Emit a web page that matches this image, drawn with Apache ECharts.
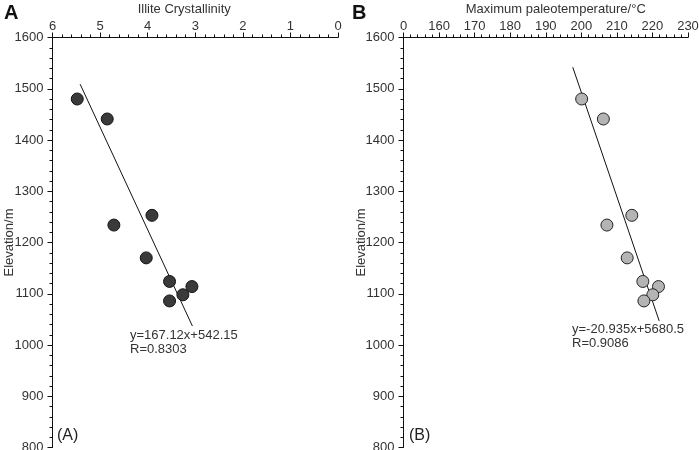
<!DOCTYPE html>
<html lang="en">
<head>
    <meta charset="UTF-8">
    <title>Illite crystallinity / paleotemperature vs elevation</title>
    <script type="text/javascript" src="https://cdn.jsdelivr.net/npm/echarts@6/dist/echarts.min.js"></script>
</head>
<body style="margin:0">
    <div id="container" style="width:699px;height:450px"></div>
    <script>
        // elevation of the samples (m), shared by both panels
        var elevation = [1480, 1441, 1234, 1253, 1170, 1124, 1114, 1098, 1086];
        // panel A: illite crystallinity
        var illite = [5.48, 4.85, 4.71, 3.91, 4.03, 3.54, 3.07, 3.26, 3.54];
        // panel B: maximum paleotemperature (°C)
        var paleoTemp = [200.1, 206.2, 207.2, 214.2, 212.9, 217.3, 221.7, 220.1, 217.6];

        // fitted lines as drawn: [x, elevation] end points
        var fitA = [[5.42, 1509], [3.06, 1037]];
        var fitB = [[197.6, 1542], [221.9, 1047]];

        var fitTextA = ['y=167.12x+542.15', 'R=0.8303'];
        var fitTextB = ['y=-20.935x+5680.5', 'R=0.9086'];

        var font = 'Liberation Sans, Arial, sans-serif';

        function pairs(xs, ys) {
            var out = [];
            for (var i = 0; i < xs.length; i++) out.push([xs[i], ys[i]]);
            return out;
        }

        var axisLineStyle = { show: true, onZero: false, lineStyle: { color: '#111', width: 1 } };
        var labelStyle = { color: '#333', fontSize: 13, fontFamily: font };
        var majorTick = { show: true, inside: false, length: 5, lineStyle: { color: '#111' } };
        var minorTick = { show: true, splitNumber: 5, length: 3, lineStyle: { color: '#111' } };

        function yAxis(gridIndex, gap) {
            return {
                type: 'value',
                gridIndex: gridIndex,
                min: 800,
                max: 1600,
                interval: 100,
                name: 'Elevation/m',
                nameLocation: 'middle',
                nameGap: gap,
                nameMoveOverlap: false,
                nameTextStyle: { color: '#333', fontSize: 13, fontFamily: font },
                axisLine: axisLineStyle,
                axisTick: majorTick,
                minorTick: minorTick,
                axisLabel: Object.assign({ margin: 9, formatter: function (v) { return String(v); } }, labelStyle),
                splitLine: { show: false }
            };
        }

        var chart = echarts.init(document.getElementById('container'));
        var option = {
            animation: false,
            grid: [
                { left: 52.5, right: 361, top: 37.5, bottom: 2.5, outerBoundsMode: 'none', containLabel: false },
                { left: 403.5, right: 11, top: 37.5, bottom: 2.5, outerBoundsMode: 'none', containLabel: false }
            ],
            xAxis: [
                {
                    type: 'value',
                    gridIndex: 0,
                    position: 'top',
                    inverse: true,
                    min: 0,
                    max: 6,
                    interval: 1,
                    name: 'Illite Crystallinity',
                    nameLocation: 'middle',
                    nameGap: 22,
                    nameMoveOverlap: false,
                    nameTextStyle: { color: '#333', fontSize: 13, fontFamily: font, padding: [0, 22, 0, 0] },
                    axisLine: axisLineStyle,
                    axisTick: majorTick,
                    minorTick: minorTick,
                    axisLabel: Object.assign({ margin: 5 }, labelStyle),
                    splitLine: { show: false }
                },
                {
                    type: 'value',
                    gridIndex: 1,
                    position: 'top',
                    min: 150,
                    max: 230,
                    interval: 10,
                    name: 'Maximum paleotemperature/°C',
                    nameLocation: 'middle',
                    nameGap: 22,
                    nameMoveOverlap: false,
                    nameTextStyle: { color: '#333', fontSize: 13, fontFamily: font, padding: [0, 0, 0, 20] },
                    axisLine: axisLineStyle,
                    axisTick: majorTick,
                    minorTick: minorTick,
                    axisLabel: Object.assign({
                        margin: 5,
                        formatter: function (v) { return v === 150 ? '0' : String(v); }
                    }, labelStyle),
                    splitLine: { show: false }
                }
            ],
            yAxis: [yAxis(0, 37), yAxis(1, 36)],
            series: [
                {
                    type: 'line',
                    xAxisIndex: 0, yAxisIndex: 0,
                    data: fitA,
                    symbol: 'none',
                    lineStyle: { color: '#111', width: 1 },
                    z: 1
                },
                {
                    type: 'scatter',
                    xAxisIndex: 0, yAxisIndex: 0,
                    data: pairs(illite, elevation),
                    symbolSize: 12,
                    itemStyle: { color: '#3a3a3a', borderColor: '#111', borderWidth: 1, opacity: 1 },
                    z: 2
                },
                {
                    type: 'line',
                    xAxisIndex: 1, yAxisIndex: 1,
                    data: fitB,
                    symbol: 'none',
                    lineStyle: { color: '#111', width: 1 },
                    z: 1
                },
                {
                    type: 'scatter',
                    xAxisIndex: 1, yAxisIndex: 1,
                    data: pairs(paleoTemp, elevation),
                    symbolSize: 12,
                    itemStyle: { color: '#b4b4b4', borderColor: '#222', borderWidth: 1, opacity: 1 },
                    z: 2
                }
            ],
            graphic: [
                { type: 'text', left: 4, top: 3, style: { text: 'A', font: 'bold 20px ' + font, fill: '#111' } },
                { type: 'text', left: 352, top: 3, style: { text: 'B', font: 'bold 20px ' + font, fill: '#111' } },
                { type: 'text', left: 130, top: 328, style: { text: fitTextA.join('\n'), font: '13px ' + font, fill: '#333', lineHeight: 14 } },
                { type: 'text', left: 572, top: 322, style: { text: fitTextB.join('\n'), font: '13px ' + font, fill: '#333', lineHeight: 14 } },
                { type: 'text', left: 57, top: 428, style: { text: '(A)', font: '16px ' + font, fill: '#222' } },
                { type: 'text', left: 409, top: 428, style: { text: '(B)', font: '16px ' + font, fill: '#222' } }
            ]
        };
        chart.setOption(option);
    </script>
</body>
</html>
